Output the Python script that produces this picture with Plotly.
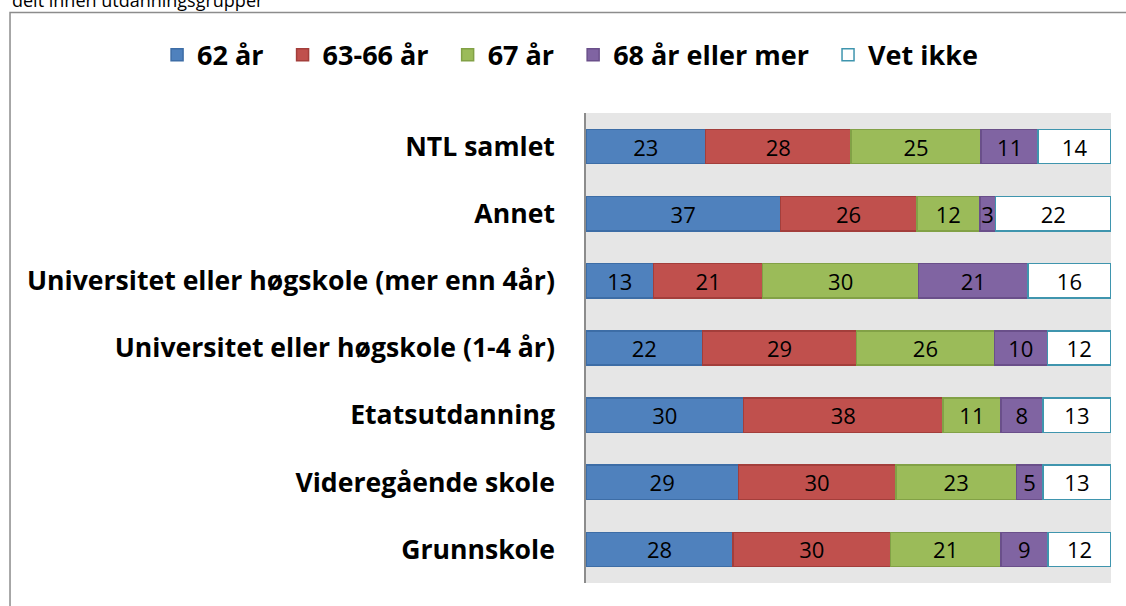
import plotly.graph_objects as go

# Utdanningsgrupper (top to bottom)
groups = [
    "NTL samlet",
    "Annet",
    "Universitet eller høgskole (mer enn 4år)",
    "Universitet eller høgskole (1-4 år)",
    "Etatsutdanning",
    "Videregående skole",
    "Grunnskole",
]

# Andel (%) per svaralternativ, same order as groups
age_62 = [23, 37, 13, 22, 30, 29, 28]
age_63_66 = [28, 26, 21, 29, 38, 30, 30]
age_67 = [25, 12, 30, 26, 11, 23, 21]
age_68_plus = [11, 3, 21, 10, 8, 5, 9]
dont_know = [14, 22, 16, 12, 13, 13, 12]

series = [
    ("62 år", age_62, "#4F81BD", "#3D6DA6"),
    ("63-66 år", age_63_66, "#C0504D", "#A33E3B"),
    ("67 år", age_67, "#9BBB59", "#82A146"),
    ("68 år eller mer", age_68_plus, "#8064A2", "#6A4F8A"),
    ("Vet ikke", dont_know, "#FFFFFF", "#3F95AE"),
]

FONT = "Open Sans"
PAD = "\u00a0\u00a0"  # extra room between legend entries

fig = go.Figure()
for name, vals, fill, edge in series:
    fig.add_trace(go.Bar(
        y=groups,
        x=vals,
        name=name + PAD,
        orientation="h",
        marker=dict(color=fill, line=dict(color=edge, width=1.5)),
        text=[str(v) for v in vals],
        textposition="inside",
        insidetextanchor="middle",
        textangle=0,
        textfont=dict(family=FONT, size=22, color="#000000"),
        hoverinfo="skip",
    ))

fig.update_layout(
    width=1126,
    height=606,
    barmode="stack",
    barnorm="percent",
    bargap=0.49,
    paper_bgcolor="#FFFFFF",
    plot_bgcolor="#E6E6E6",
    margin=dict(l=586, r=15, t=113, b=23, autoexpand=False),
    font=dict(family=FONT, color="#000000"),
    uniformtext=dict(minsize=22, mode="show"),
    showlegend=True,
    legend=dict(
        orientation="h",
        x=-0.817,
        xanchor="left",
        y=1.123,
        yanchor="middle",
        traceorder="normal",
        font=dict(family=FONT, size=27, color="#000000", weight="bold"),
        bgcolor="rgba(0,0,0,0)",
        itemwidth=30,
    ),
    xaxis=dict(
        range=[0, 100],
        showticklabels=False,
        showgrid=False,
        zeroline=False,
        showline=False,
        fixedrange=True,
    ),
    yaxis=dict(
        categoryorder="array",
        categoryarray=groups,
        autorange="reversed",
        showline=True,
        linecolor="#8C8C8C",
        linewidth=1.5,
        ticks="",
        showgrid=False,
        ticklabelstandoff=24,
        tickfont=dict(family=FONT, size=26.6, color="#000000", weight="bold"),
        fixedrange=True,
    ),
)

# Partial subtitle line at the very top
fig.add_annotation(
    text="delt innen utdanningsgrupper",
    xref="paper", yref="paper",
    x=-1.097, y=1.2404,
    xanchor="left", yanchor="middle",
    showarrow=False,
    font=dict(family=FONT, size=18, color="#000000"),
)

# Chart frame
fig.add_shape(
    type="rect",
    xref="paper", yref="paper",
    x0=-1.0971, x1=1.06, y0=-0.08, y1=1.2138,
    line=dict(color="#8C8C8C", width=1.5),
    fillcolor="rgba(0,0,0,0)",
    layer="below",
)

fig.write_html("out.html")
